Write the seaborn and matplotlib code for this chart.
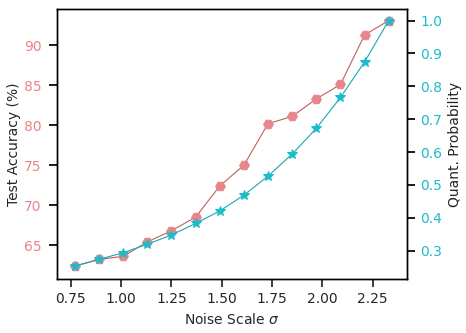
import matplotlib
matplotlib.use("Agg")
import matplotlib.pyplot as plt
import seaborn as sns
import pandas as pd

sns.set_theme(style="ticks")
plt.rcParams['font.family'] = ['DejaVu Sans']

# datos
noise_scale = [0.77, 0.89, 1.01, 1.13, 1.25, 1.37, 1.49, 1.61, 1.73, 1.85, 1.97, 2.09, 2.21, 2.33]
test_acc = [62.4, 63.2, 63.6, 65.4, 66.8, 68.5, 72.4, 75.0, 80.2, 81.1, 83.3, 85.1, 91.3, 93.1]
quant_prob = [0.253, 0.274, 0.294, 0.320, 0.348, 0.383, 0.421, 0.469, 0.527, 0.594, 0.672, 0.766, 0.874, 1.0]

df = pd.DataFrame({"sigma": noise_scale, "acc": test_acc, "prob": quant_prob})

color_acc = "#e8858a"
color_prob = "#1bbccb"

fig = plt.figure(figsize=(4.66, 3.33), dpi=100)
ax = fig.add_axes([0.122, 0.162, 0.751, 0.811])
ax2 = ax.twinx()

sns.lineplot(data=df, x="sigma", y="acc", ax=ax, color="#c0605a", lw=0.8,
             marker="H", markersize=7, markerfacecolor=color_acc, markeredgecolor=color_acc)
sns.lineplot(data=df, x="sigma", y="prob", ax=ax2, color="#1aa8b0", lw=0.8,
             marker="*", markersize=7, markerfacecolor=color_prob, markeredgecolor=color_prob)

ax.set_xlim(0.68, 2.42)
ax.set_ylim(60.75, 94.55)
ax2.set_ylim(0.214, 1.035)
ax.set_xticks([0.75, 1.00, 1.25, 1.50, 1.75, 2.00, 2.25])
ax.set_yticks([65, 70, 75, 80, 85, 90])
ax2.set_yticks([0.3, 0.4, 0.5, 0.6, 0.7, 0.8, 0.9, 1.0])

ax.set_xlabel("Noise Scale $\\sigma$", fontsize=10)
ax.set_ylabel("Test Accuracy (%)", fontsize=10, labelpad=2)
ax2.set_ylabel("Quant. Probability", fontsize=10)

ax.tick_params(axis="y", labelcolor=color_acc, color="black", labelsize=10, pad=5)
ax.tick_params(axis="x", labelsize=10)
ax2.tick_params(axis="y", labelcolor=color_prob, color="black", labelsize=10)

for a in (ax, ax2):
    for s in a.spines.values():
        s.set_color("black")
        s.set_linewidth(1.0)

fig.savefig("out.png", dpi=100)
